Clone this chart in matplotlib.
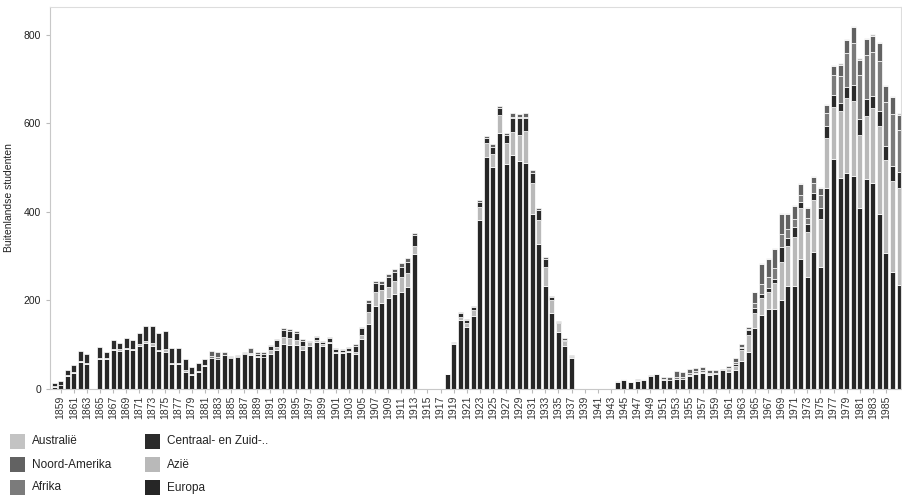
import numpy as np
import matplotlib
matplotlib.use('Agg')
import matplotlib.pyplot as plt
from matplotlib.patches import Rectangle

plt.rcParams['font.family'] = ['Liberation Sans', 'DejaVu Sans']

years = list(range(1858, 1988))

# values per year, 1858..1987 (130 years)
europa = [
    5, 8, 29, 37, 60, 56, 0, 68, 68, 87, 86, 90, 87, 97, 104, 97, 85, 83, 56, 56,
    39, 31, 39, 52, 69, 68, 76, 70, 72, 78, 76, 73, 73, 80, 88, 102, 100, 99, 88, 97,
    107, 97, 103, 81, 82, 84, 80, 113, 147, 188, 195, 205, 215, 220, 230, 304, 0, 0, 0, 0,
    33, 101, 157, 139, 166, 382, 525, 502, 579, 508, 529, 516, 510, 395, 327, 233, 171, 128, 98, 69,
    0, 0, 0, 0, 0, 0, 16, 21, 15, 19, 21, 29, 33, 21, 21, 22, 22, 30, 35, 37,
    32, 34, 42, 39, 44, 64, 84, 137, 167, 180, 180, 201, 233, 233, 293, 252, 309, 275, 453, 519,
    476, 489, 481, 408, 474, 465, 395, 307, 264, 235,
]
azie = [
    1, 1, 2, 2, 3, 3, 0, 3, 3, 3, 4, 3, 3, 4, 5, 6, 3, 7, 3, 2,
    3, 2, 2, 2, 1, 0, 1, 1, 0, 0, 2, 2, 0, 7, 8, 15, 15, 11, 10, 9,
    3, 5, 4, 2, 2, 2, 4, 10, 26, 32, 28, 26, 28, 34, 33, 20, 0, 0, 0, 0,
    1, 4, 6, 10, 12, 30, 30, 30, 40, 47, 51, 58, 72, 70, 55, 42, 31, 20, 10, 4,
    0, 0, 0, 0, 0, 0, 1, 1, 1, 1, 1, 1, 0, 1, 0, 1, 0, 1, 1, 1,
    1, 1, 1, 7, 8, 23, 38, 35, 39, 40, 59, 87, 90, 111, 115, 103, 117, 109, 113, 119,
    153, 168, 169, 166, 143, 169, 200, 211, 205, 220,
]
centraal_zuid = [
    7, 9, 12, 15, 23, 20, 0, 25, 12, 21, 13, 23, 21, 26, 34, 40, 39, 41, 34, 35,
    25, 17, 17, 14, 0, 0, 0, 2, 3, 3, 0, 4, 5, 10, 14, 17, 16, 16, 10, 0,
    7, 5, 8, 7, 5, 7, 14, 14, 22, 19, 15, 22, 22, 22, 25, 23, 0, 0, 0, 0,
    1, 0, 8, 6, 7, 10, 11, 15, 15, 19, 32, 38, 30, 23, 22, 19, 5, 3, 3, 2,
    0, 0, 0, 0, 0, 0, 0, 0, 0, 0, 0, 0, 0, 0, 0, 0, 0, 0, 0, 0,
    0, 0, 0, 1, 5, 5, 11, 11, 9, 9, 10, 32, 19, 23, 15, 17, 17, 26, 28, 26,
    18, 26, 36, 35, 38, 28, 32, 30, 34, 36,
]
afrika = [
    0, 0, 0, 0, 0, 0, 0, 0, 0, 0, 0, 0, 0, 0, 0, 0, 0, 0, 0, 0,
    0, 0, 0, 0, 4, 4, 0, 0, 0, 0, 4, 0, 0, 0, 0, 0, 0, 0, 0, 0,
    0, 0, 0, 0, 0, 0, 0, 0, 0, 0, 0, 0, 0, 0, 0, 0, 0, 0, 0, 0,
    0, 0, 0, 0, 0, 0, 0, 0, 0, 0, 3, 2, 3, 0, 0, 0, 0, 0, 0, 0,
    0, 0, 0, 0, 0, 0, 0, 0, 0, 0, 0, 0, 0, 0, 0, 5, 5, 5, 4, 4,
    3, 2, 0, 1, 3, 2, 2, 12, 22, 24, 25, 30, 20, 17, 15, 15, 22, 28, 30, 45,
    60, 75, 95, 100, 100, 100, 115, 100, 118, 95,
]
noord_amerika = [
    0, 0, 0, 0, 0, 0, 0, 0, 0, 0, 0, 0, 0, 0, 0, 0, 0, 0, 0, 0,
    0, 0, 0, 0, 12, 11, 6, 2, 2, 3, 10, 5, 6, 2, 2, 3, 4, 4, 4, 2,
    3, 1, 2, 2, 2, 3, 4, 4, 5, 4, 5, 7, 7, 8, 7, 5, 0, 0, 0, 0,
    0, 2, 4, 3, 3, 5, 6, 6, 6, 4, 8, 7, 8, 7, 4, 4, 3, 3, 4, 2,
    0, 0, 0, 0, 0, 0, 0, 1, 0, 2, 1, 1, 2, 4, 5, 12, 11, 10, 8, 8,
    6, 6, 3, 5, 10, 7, 6, 24, 45, 40, 42, 45, 33, 30, 25, 23, 14, 17, 17, 21,
    26, 30, 36, 35, 35, 36, 40, 36, 39, 34,
]
australie = [0] * 107 + [1, 2, 2, 2, 2, 2, 2, 2, 2, 2, 2, 2, 3, 3, 3, 3, 3, 3, 3, 3, 3, 3, 3]

# stacking order, bottom to top
series = [
    ('Europa', europa, '#262626'),
    ('Azië', azie, '#b9b9b9'),
    ('Centraal- en Zuid-..', centraal_zuid, '#2b2b2b'),
    ('Afrika', afrika, '#7b7b7b'),
    ('Noord-Amerika', noord_amerika, '#626262'),
    ('Australië', australie, '#c3c3c3'),
]
legend_order = ['Australië', 'Noord-Amerika', 'Afrika', 'Centraal- en Zuid-..', 'Azië', 'Europa']


def draw_bars(ax):
    x = np.arange(len(years))
    bottom = np.zeros(len(years))
    for name, values, color in series:
        values = np.array(values, dtype=float)
        keep = values > 0
        ax.bar(x[keep], values[keep], bottom=bottom[keep], width=0.76,
               color=color, edgecolor='white', linewidth=0.5)
        bottom += values
    return x


def draw_legend(fig):
    colors = {name: color for name, _, color in series}
    for i, name in enumerate(legend_order):
        col, row = divmod(i, 3)
        x0 = 10 + col * 135
        y0 = 434 + row * 23
        fig.add_artist(Rectangle((x0, 496 - y0 - 15), 15, 15, transform=None,
                                 facecolor=colors[name], edgecolor='none'))
        fig.text((x0 + 22) / 902, (496 - y0 - 7.5) / 496, name, fontsize=8.5,
                 color='#222222', va='center', ha='left')


def main():
    fig = plt.figure(figsize=(9.02, 4.96), dpi=100)
    ax = fig.add_axes([50 / 902, 1 - 389 / 496, 851 / 902, 382 / 496])
    x = draw_bars(ax)

    ax.set_xlim(-0.62, len(years) - 0.7)
    ax.set_ylim(0, 863)
    ax.set_yticks([0, 200, 400, 600, 800])
    ax.tick_params(axis='y', labelsize=7.5, colors='#bbbbbb', labelcolor='#222222', length=3)
    ax.set_ylabel('Buitenlandse studenten', fontsize=7.5, color='#222222', labelpad=7)

    # every other year is labelled; the last year has no room for a label
    ticks = [i for i, yr in enumerate(years) if yr % 2 == 1 and yr <= 1985]
    ax.set_xticks(ticks)
    ax.set_xticklabels([str(years[i]) for i in ticks], rotation=90, fontsize=7.5, color='#333333')
    ax.tick_params(axis='x', colors='#bbbbbb', labelcolor='#333333', length=3, pad=2)

    for side in ['top', 'right']:
        ax.spines[side].set_color('#dddddd')
        ax.spines[side].set_linewidth(0.8)
    for side in ['left', 'bottom']:
        ax.spines[side].set_color('#c8c8c8')
        ax.spines[side].set_linewidth(0.8)

    draw_legend(fig)
    fig.savefig('out.png', dpi=100)


if __name__ == '__main__':
    main()
